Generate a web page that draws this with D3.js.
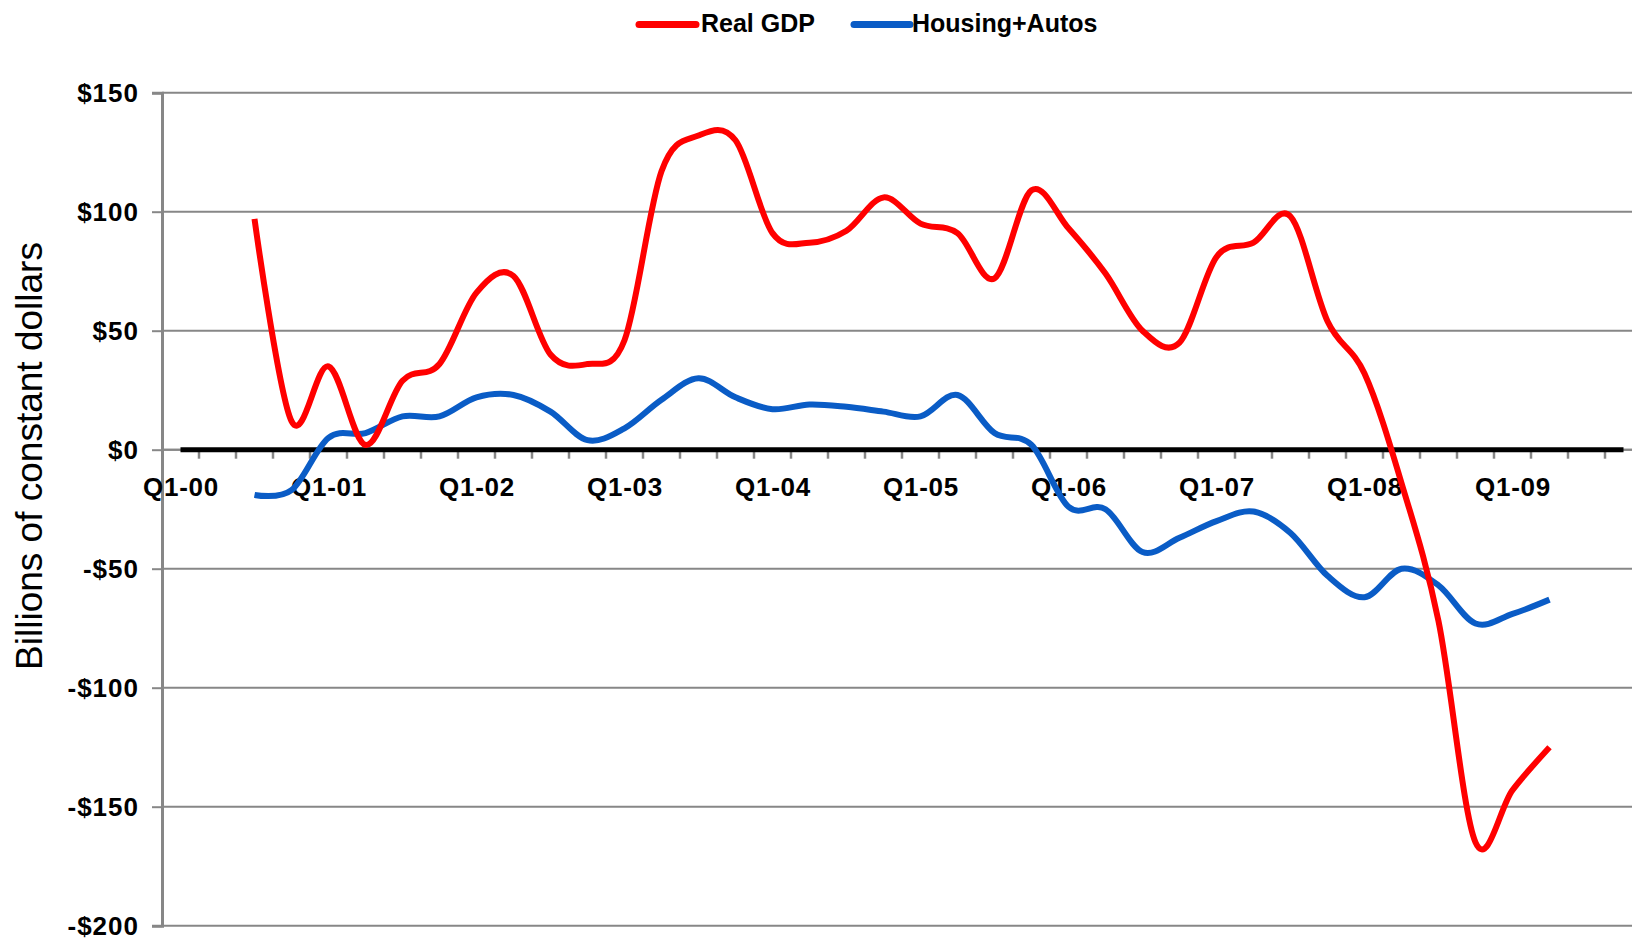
<!DOCTYPE html>
<html>
<head>
<meta charset="utf-8">
<script src="https://cdnjs.cloudflare.com/ajax/libs/d3/7.8.5/d3.min.js"></script>
<style>
  html, body { margin: 0; padding: 0; background: #fff; }
  svg { display: block; }
  text { font-family: "Liberation Sans", Arial, sans-serif; }
</style>
</head>
<body>
<div id="chart"></div>
<script>
// quarters Q1-00 .. Q4-09
const years = ['00', '01', '02', '03', '04', '05', '06', '07', '08', '09'];
const quarters = ['Q1', 'Q2', 'Q3', 'Q4'];
const categories = years.flatMap(y => quarters.map(q => `${q}-${y}`));

// billions of constant dollars, null where there is no data
const realGDP = [
  null, null, 97, 12,
  35, 2, 29, 36,
  66, 73, 40, 36,
  46, 117, 132, 130,
  91, 87, 92, 106,
  95, 91, 72, 109,
  93, 74, 50, 45,
  81, 87, 98, 54,
  32, -14, -72, -165,
  -143, -125, null, null
];
const housingAutos = [
  null, null, -19, -17,
  5, 7, 14, 14,
  22, 23, 16, 4,
  9, 21, 30, 22,
  17, 19, 18, 16,
  14, 23, 7, 2,
  -24, -25, -43, -37,
  -30, -26, -35, -53,
  -62, -50, -57, -73,
  -69, -63, null, null
];
const yTicks = [150, 100, 50, 0, -50, -100, -150, -200];

const width = 1632;
const height = 938;
const plotLeft = 162;
const plotRight = 1642; // plot runs slightly past the picture edge
const plotTop = 92.7;
const plotBottom = 925.7;

const svg = d3.select('#chart')
  .append('svg')
  .attr('width', width)
  .attr('height', height);

const x = d3.scaleBand()
  .domain(categories)
  .range([plotLeft, plotRight])
  .paddingInner(0)
  .paddingOuter(0);
const cx = c => x(c) + x.bandwidth() / 2;

const y = d3.scaleLinear()
  .domain([-200, 150])
  .range([plotBottom, plotTop]);

const grey = '#878787';

// gridlines
svg.append('g')
  .selectAll('line')
  .data(yTicks)
  .enter()
  .append('line')
  .attr('x1', plotLeft)
  .attr('x2', width)
  .attr('y1', d => y(d))
  .attr('y2', d => y(d))
  .attr('stroke', grey)
  .attr('stroke-width', 2);

// y axis
const yAxis = svg.append('g')
  .attr('transform', `translate(${plotLeft},0)`)
  .call(d3.axisLeft(y)
    .tickValues(yTicks)
    .tickSize(10)
    .tickPadding(13)
    .tickFormat(d => (d < 0 ? '-$' : '$') + Math.abs(d)));
yAxis.select('.domain').attr('stroke', grey).attr('stroke-width', 3);
yAxis.selectAll('.tick line').attr('stroke', grey).attr('stroke-width', 2);
yAxis.selectAll('.tick text')
  .attr('fill', '#000')
  .style('font-size', '26px')
  .style('font-weight', 'bold')
  .style('letter-spacing', '1px')
  .style('font-family', '"Liberation Sans", Arial, sans-serif');

// category axis at zero
const y0 = y(0);
svg.append('line')
  .attr('x1', plotLeft)
  .attr('x2', width)
  .attr('y1', y0)
  .attr('y2', y0)
  .attr('stroke', grey)
  .attr('stroke-width', 2);

svg.append('g')
  .selectAll('line')
  .data(categories.slice(1))
  .enter()
  .append('line')
  .attr('x1', d => x(d))
  .attr('x2', d => x(d))
  .attr('y1', y0)
  .attr('y2', y0 + 9)
  .attr('stroke', grey)
  .attr('stroke-width', 2.5);

// black zero line across the category centres
svg.append('line')
  .attr('x1', cx(categories[0]))
  .attr('x2', cx(categories[categories.length - 1]))
  .attr('y1', y0)
  .attr('y2', y0)
  .attr('stroke', '#000')
  .attr('stroke-width', 5);

// category labels, every fourth quarter
svg.append('g')
  .selectAll('text')
  .data(categories.filter(c => c.startsWith('Q1')))
  .enter()
  .append('text')
  .attr('x', d => cx(d) + 0.5)
  .attr('y', y0 + 39)
  .attr('text-anchor', 'middle')
  .attr('dominant-baseline', 'middle')
  .style('font-size', '26px')
  .style('font-weight', 'bold')
  .style('letter-spacing', '0.7px')
  .text(d => d);

// series
const line = d3.line()
  .defined(d => d.v !== null)
  .x(d => cx(d.c))
  .y(d => y(d.v))
  .curve(d3.curveCardinal.tension(0));

const series = [
  { name: 'Real GDP', values: realGDP, color: '#ff0000' },
  { name: 'Housing+Autos', values: housingAutos, color: '#0a5cc6' }
];

series.slice().reverse().forEach(s => {
  const pts = s.values.map((v, i) => ({ c: categories[i], v }));
  svg.append('path')
    .datum(pts)
    .attr('d', line)
    .attr('fill', 'none')
    .attr('stroke', s.color)
    .attr('stroke-width', 6)
    .attr('stroke-linejoin', 'round');
});

// y axis title
svg.append('text')
  .attr('transform', `translate(42,456) rotate(-90)`)
  .attr('text-anchor', 'middle')
  .style('font-size', '37px')
  .text('Billions of constant dollars');

// legend
const legendItems = [
  { x1: 639, x2: 696, tx: 701 },
  { x1: 854, x2: 910, tx: 912 }
];
const legend = svg.append('g');
series.forEach((s, i) => {
  const it = legendItems[i];
  legend.append('line')
    .attr('x1', it.x1)
    .attr('x2', it.x2)
    .attr('y1', 24.5)
    .attr('y2', 24.5)
    .attr('stroke', s.color)
    .attr('stroke-width', 7)
    .attr('stroke-linecap', 'round');
  legend.append('text')
    .attr('x', it.tx)
    .attr('y', 25)
    .attr('dominant-baseline', 'middle')
    .style('font-size', '25px')
    .style('font-weight', 'bold')
    .text(s.name);
});
</script>
</body>
</html>
